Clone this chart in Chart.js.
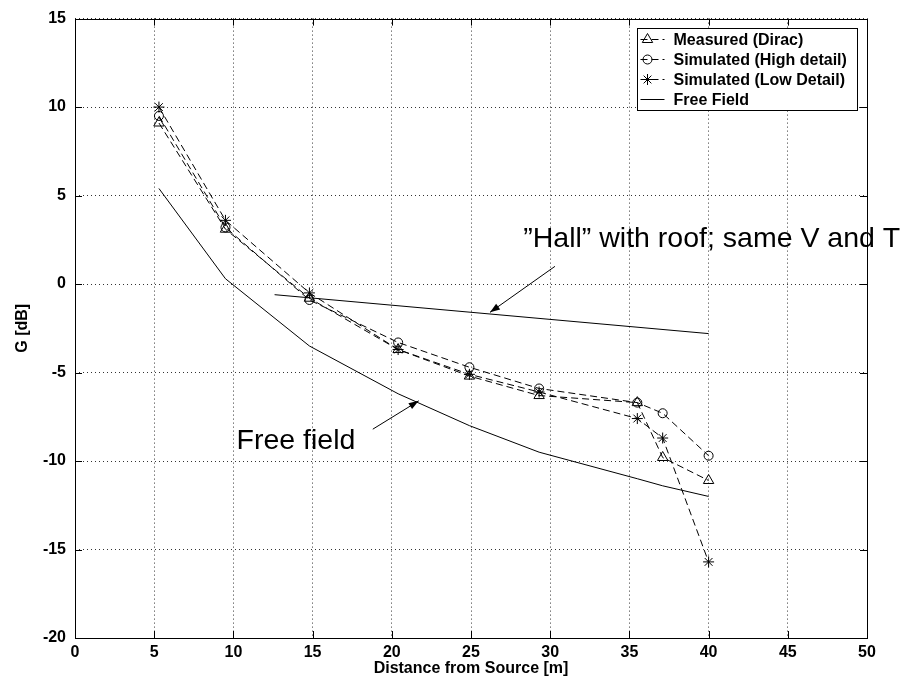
<!DOCTYPE html>
<html>
<head>
<meta charset="utf-8">
<script src="https://cdn.jsdelivr.net/npm/chart.js@4.4.0/dist/chart.umd.min.js"></script>
<style>
  html, body { margin: 0; padding: 0; background: #fff; }
</style>
</head>
<body>
<canvas id="myChart" width="911" height="686"></canvas>
<script>
const ctx = document.querySelector('#myChart')

// values
const distance = [5.3, 9.5, 14.8, 20.4, 24.9, 29.3, 35.5, 37.1, 40.0]
const measured = [9.1, 3.1, -0.8, -3.7, -5.2, -6.3, -6.7, -9.8, -11.1]
const simHigh = [9.5, 3.2, -0.9, -3.3, -4.7, -5.9, -6.7, -7.3, -9.7]
const simLow = [10.0, 3.6, -0.5, -3.7, -5.1, -6.1, -7.6, -8.7, -15.7]
const freeField = [5.4, 0.3, -3.5, -6.2, -8.0, -9.5, -11.0, -11.4, -12.0]
const hallDistance = [12.6, 40.0]
const hallG = [-0.6, -2.8]

const xTicks = [0, 5, 10, 15, 20, 25, 30, 35, 40, 45, 50]
const yTicks = [-20, -15, -10, -5, 0, 5, 10, 15]

const labels = ['Measured (Dirac)', 'Simulated (High detail)', 'Simulated (Low Detail)', 'Free Field']

// text notes and arrows, in data units
const notes = [
    { text: '\u201DHall\u201D with roof; same V and T', x: 28.3, y: 2.1 },
    { text: 'Free field', x: 10.2, y: -9.3 }
]
const arrows = [
    { from: [30.3, 1.0], to: [26.2, -1.6] },
    { from: [18.8, -8.2], to: [21.7, -6.6] }
]

const pts = (xs, ys) => xs.map((v, i) => ({ x: v, y: ys[i] }))
const font = { family: '"Liberation Sans", Arial, sans-serif', weight: 'bold', size: 16 }
const dash = [7, 4]

const marks = (label, data, style, size, lineDash) => ({
    label: label,
    data: data,
    borderColor: '#000',
    borderWidth: 1,
    borderDash: lineDash,
    pointStyle: style,
    pointRadius: size,
    pointBorderColor: '#000',
    pointBackgroundColor: 'rgba(0,0,0,0)',
    pointBorderWidth: 1,
    tension: 0
})

const extras = {
    id: 'extras',
    afterDatasetsDraw(chart) {
        const c = chart.ctx
        const a = chart.chartArea
        const x = chart.scales.x
        const y = chart.scales.y
        c.save()
        c.strokeStyle = '#000'
        c.fillStyle = '#000'
        c.lineWidth = 1
        c.setLineDash([])

        // inward ticks on all four sides
        c.beginPath()
        xTicks.forEach(v => {
            const px = Math.round(x.getPixelForValue(v)) + 0.5
            c.moveTo(px, a.bottom); c.lineTo(px, a.bottom - 7)
            c.moveTo(px, a.top); c.lineTo(px, a.top + 7)
        })
        yTicks.forEach(v => {
            const py = Math.round(y.getPixelForValue(v)) + 0.5
            c.moveTo(a.left, py); c.lineTo(a.left + 7, py)
            c.moveTo(a.right, py); c.lineTo(a.right - 7, py)
        })
        c.stroke()
        c.strokeRect(Math.round(a.left) + 0.5, Math.round(a.top) + 0.5, Math.round(a.right - a.left), Math.round(a.bottom - a.top))

        // arrows
        arrows.forEach(ar => {
            const x1 = x.getPixelForValue(ar.from[0]), y1 = y.getPixelForValue(ar.from[1])
            const x2 = x.getPixelForValue(ar.to[0]), y2 = y.getPixelForValue(ar.to[1])
            const ang = Math.atan2(y2 - y1, x2 - x1)
            c.beginPath()
            c.moveTo(x1, y1); c.lineTo(x2, y2)
            c.stroke()
            c.beginPath()
            c.moveTo(x2, y2)
            c.lineTo(x2 - 10 * Math.cos(ang) + 3.5 * Math.sin(ang), y2 - 10 * Math.sin(ang) - 3.5 * Math.cos(ang))
            c.lineTo(x2 - 10 * Math.cos(ang) - 3.5 * Math.sin(ang), y2 - 10 * Math.sin(ang) + 3.5 * Math.cos(ang))
            c.closePath()
            c.fill()
        })

        // notes
        c.font = '28.5px "Liberation Sans", Arial, sans-serif'
        c.textBaseline = 'alphabetic'
        c.textAlign = 'left'
        notes.forEach(n => c.fillText(n.text, x.getPixelForValue(n.x), y.getPixelForValue(n.y)))

        // legend box
        const bx = Math.round(a.right - 230) + 0.5
        const by = Math.round(a.top + 9) + 0.5
        c.fillStyle = '#fff'
        c.fillRect(bx, by, 220, 82)
        c.strokeRect(bx, by, 220, 82)
        c.font = 'bold 16px "Liberation Sans", Arial, sans-serif'
        c.textBaseline = 'middle'
        chart.data.datasets.forEach((ds, i) => {
            if (!ds.label) return
            const ry = by + 11 + i * 20
            c.strokeStyle = '#000'
            c.setLineDash(ds.borderDash || [])
            c.beginPath()
            c.moveTo(bx + 3, ry); c.lineTo(bx + 27, ry)
            c.stroke()
            c.setLineDash([])
            if (ds.pointStyle) {
                c.fillStyle = 'rgba(0,0,0,0)'
                Chart.helpers.drawPoint(c, { pointStyle: ds.pointStyle, radius: ds.pointRadius, borderWidth: 1, rotation: 0 }, bx + 10, ry)
            }
            c.fillStyle = '#000'
            c.fillText(ds.label, bx + 36, ry + 1)
        })
        c.restore()
    }
}

new Chart(ctx, {
    type: 'line',
    data: {
        datasets: [
            marks(labels[0], pts(distance, measured), 'triangle', 6, dash),
            marks(labels[1], pts(distance, simHigh), 'circle', 4.5, dash),
            marks(labels[2], pts(distance, simLow), 'star', 5.5, dash),
            marks(labels[3], pts(distance, freeField), false, 0, []),
            marks('', pts(hallDistance, hallG), false, 0, [])
        ]
    },
    options: {
        responsive: false,
        animation: false,
        devicePixelRatio: 1,
        layout: { padding: { top: 13, right: 44, left: 0, bottom: 0 } },
        plugins: { legend: { display: false }, tooltip: { enabled: false } },
        scales: {
            x: {
                type: 'linear',
                min: 0,
                max: 50,
                afterBuildTicks: s => { s.ticks = xTicks.map(v => ({ value: v })) },
                afterFit: s => { s.height = 48 },
                border: { display: false, dash: [1, 3] },
                grid: { color: '#333', drawTicks: false },
                ticks: { font: font, color: '#000', padding: 5, maxRotation: 0 },
                title: { display: true, text: 'Distance from Source [m]', font: font, color: '#000', padding: { top: 0, bottom: 8 } }
            },
            y: {
                type: 'linear',
                min: -20,
                max: 15,
                afterBuildTicks: s => { s.ticks = yTicks.map(v => ({ value: v })) },
                afterFit: s => { s.width = 75 },
                border: { display: false, dash: [1, 3] },
                grid: { color: '#333', drawTicks: false },
                ticks: { font: font, color: '#000', padding: 9 },
                title: { display: true, text: 'G [dB]', font: font, color: '#000', padding: { top: 13, bottom: 0 } }
            }
        }
    },
    plugins: [extras]
})
</script>
</body>
</html>
